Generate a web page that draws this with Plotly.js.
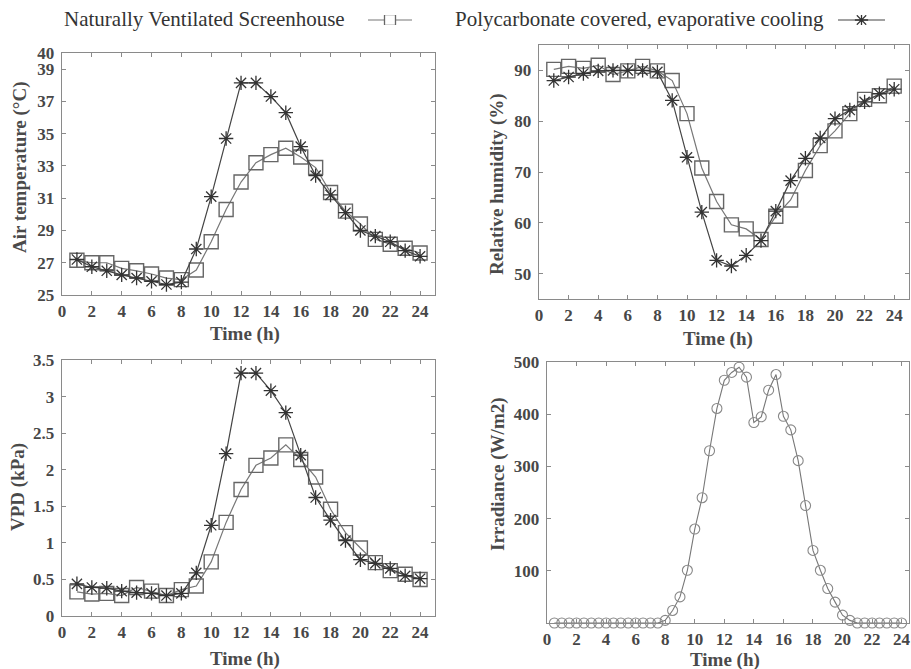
<!DOCTYPE html>
<html>
<head>
<meta charset="utf-8">
<script src="https://cdn.plot.ly/plotly-3.0.1.min.js"></script>
<style>
  html, body { margin: 0; padding: 0; background: #fff; }
  #chart { width: 911px; height: 669px; }
</style>
</head>
<body>
<div id="chart"></div>
<script>
// Hourly readings, 1 h to 24 h
const hours = [1,2,3,4,5,6,7,8,9,10,11,12,13,14,15,16,17,18,19,20,21,22,23,24];

// Air temperature (°C)
const tempScreenhouse = [27.15,27.0,27.0,26.65,26.5,26.3,26.05,25.95,26.55,28.3,30.3,32.0,33.2,33.7,34.1,33.55,32.9,31.35,30.2,29.4,28.45,28.15,27.9,27.6];
const tempPolycarb    = [27.2,26.75,26.5,26.25,26.05,25.85,25.65,25.8,27.85,31.1,34.7,38.15,38.15,37.3,36.3,34.2,32.4,31.2,30.1,29.0,28.65,28.3,27.75,27.4];

// Relative humidity (%)
const rhScreenhouse = [90.2,90.8,90.4,91.0,89.2,89.9,90.8,89.9,88.0,81.5,70.8,64.2,59.6,58.8,56.7,61.3,64.5,70.3,75.2,78.1,81.5,84.3,85.0,86.9];
const rhPolycarb    = [88.0,88.7,89.4,89.9,90.0,90.0,90.0,89.7,84.1,72.9,62.1,52.6,51.5,53.6,56.5,62.3,68.3,72.7,76.7,80.5,82.2,83.8,85.4,86.3];

// Vapour pressure deficit (kPa)
const vpdScreenhouse = [0.33,0.30,0.31,0.28,0.39,0.34,0.28,0.36,0.41,0.74,1.28,1.73,2.06,2.16,2.34,2.14,1.90,1.46,1.14,0.93,0.73,0.62,0.57,0.50];
const vpdPolycarb    = [0.44,0.39,0.38,0.34,0.32,0.31,0.28,0.31,0.59,1.24,2.22,3.32,3.32,3.08,2.78,2.20,1.62,1.31,1.03,0.77,0.72,0.65,0.55,0.51];

// Solar irradiance, half-hourly (W/m2)
const irrTime = [0.5,1,1.5,2,2.5,3,3.5,4,4.5,5,5.5,6,6.5,7,7.5,8,8.5,9,9.5,10,10.5,11,11.5,12,12.5,13,13.5,14,14.5,15,15.5,16,16.5,17,17.5,18,18.5,19,19.5,20,20.5,21,21.5,22,22.5,23,23.5,24];
const irradiance = [0,0,0,0,0,0,0,0,0,0,0,0,0,0,0,5,24,50,101,180,240,330,411,465,480,490,471,384,395,446,476,396,370,311,225,139,101,66,40,15,5,0,0,0,0,0,0,0];

// Tick labels
const xTicks = [0,2,4,6,8,10,12,14,16,18,20,22,24];
const tempTicks = [25,27,29,31,33,35,37,39,40];
const rhTicks = [50,60,70,80,90];
const vpdTicks = [0,0.5,1,1.5,2,2.5,3,3.5];
const vpdTickText = ['0','0.5','1','1.5','2','2.5','3','3.5'];
const irrTicks = [100,200,300,400,500];

// Legend labels
const seriesNames = ['Naturally Ventilated Screenhouse', 'Polycarbonate covered, evaporative cooling'];

const W = 911, H = 669;
const px = v => v / W;
const py = v => 1 - v / H;

const FONT = 'Liberation Serif';
const axisGrey = '#8a8a8a';
const tickFont = {family: FONT, size: 17, color: '#474747', weight: 700};

const squareStyle = {symbol: 'square-open', size: 14, color: '#666', line: {color: '#666', width: 1.4}};
const starStyle = {symbol: 'asterisk-open', size: 12, color: '#333', line: {color: '#333', width: 1.3}};
const lineNV = {color: '#777', width: 1.2};
const linePC = {color: '#444', width: 1.2};

function xAxis(domain, anchor, range) {
  return {
    domain: domain, anchor: anchor, range: range,
    tickmode: 'array', tickvals: xTicks,
    ticks: 'inside', ticklen: 4, tickcolor: axisGrey, tickwidth: 1,
    showline: true, linecolor: axisGrey, linewidth: 1.3, mirror: 'ticks',
    showgrid: false, zeroline: false, tickfont: tickFont,
    ticklabelstandoff: 0, ticklabeloverflow: 'allow'
  };
}
function yAxis(domain, anchor, range, vals, text) {
  const a = {
    domain: domain, anchor: anchor, range: range,
    tickmode: 'array', tickvals: vals,
    ticks: 'inside', ticklen: 4, tickcolor: axisGrey, tickwidth: 1,
    showline: true, linecolor: axisGrey, linewidth: 1.3, mirror: 'ticks',
    showgrid: false, zeroline: false, tickfont: tickFont, ticklabelstandoff: 3
  };
  if (text) a.ticktext = text;
  return a;
}

function pair(xa, ya, yNV, yPC) {
  return [
    {x: hours, y: yNV, xaxis: xa, yaxis: ya, mode: 'lines+markers', name: seriesNames[0],
     line: lineNV, marker: squareStyle, showlegend: false, cliponaxis: false},
    {x: hours, y: yPC, xaxis: xa, yaxis: ya, mode: 'lines+markers', name: seriesNames[1],
     line: linePC, marker: starStyle, showlegend: false, cliponaxis: false}
  ];
}

// legend key: a short line with the series marker in its middle
function legendKey(xa, ya, line, marker) {
  return [
    {x: [0, 1], y: [0, 0], xaxis: xa, yaxis: ya, mode: 'lines', line: line, showlegend: false, hoverinfo: 'skip'},
    {x: [0.5], y: [0], xaxis: xa, yaxis: ya, mode: 'markers', showlegend: false, hoverinfo: 'skip', marker: marker}
  ];
}

const data = [
  ...pair('x', 'y', tempScreenhouse, tempPolycarb),
  ...pair('x2', 'y2', rhScreenhouse, rhPolycarb),
  ...pair('x3', 'y3', vpdScreenhouse, vpdPolycarb),
  {x: irrTime, y: irradiance, xaxis: 'x4', yaxis: 'y4', mode: 'lines+markers', name: 'Irradiance',
   line: {color: '#777', width: 1.1},
   marker: {symbol: 'circle-open', size: 10, color: '#888', line: {color: '#888', width: 1.1}},
   showlegend: false, cliponaxis: false},
  ...legendKey('x5', 'y5', lineNV, {symbol: 'square', size: 11, color: '#fff', line: {color: '#666', width: 1.3}}),
  ...legendKey('x6', 'y6', linePC, Object.assign({}, starStyle, {size: 11}))
];

const hidden = (domain, anchor) => ({domain: domain, anchor: anchor, range: [0, 1], visible: false, fixedrange: true});
const hiddenY = (domain, anchor) => ({domain: domain, anchor: anchor, range: [-1, 1], visible: false, fixedrange: true});

const titleFont = {family: FONT, size: 19, color: '#4a4a4a', weight: 700};
const legendFont = {family: FONT, size: 21, color: '#333'};

function note(text, x, y, angle, font, anchor) {
  return {text: text, xref: 'paper', yref: 'paper', x: px(x), y: py(y), showarrow: false,
          textangle: angle || 0, font: font, xanchor: anchor || 'center', yanchor: 'middle'};
}

const layout = {
  width: W, height: H,
  margin: {l: 0, r: 0, t: 0, b: 0},
  paper_bgcolor: '#fff', plot_bgcolor: '#fff',
  showlegend: false,
  xaxis:  xAxis([px(62), px(435)], 'y', [0, 25]),
  yaxis:  yAxis([py(295), py(53)], 'x', [25, 40], tempTicks),
  xaxis2: xAxis([px(539), px(909)], 'y2', [0, 25]),
  yaxis2: yAxis([py(299), py(45)], 'x2', [45, 95], rhTicks),
  xaxis3: xAxis([px(62), px(435)], 'y3', [0, 25]),
  yaxis3: yAxis([py(616), py(360)], 'x3', [0, 3.5], vpdTicks, vpdTickText),
  xaxis4: xAxis([px(547), px(909)], 'y4', [0, 24.5]),
  yaxis4: yAxis([py(623), py(362)], 'x4', [0, 500], irrTicks),
  xaxis5: hidden([px(368), px(412)], 'y5'),
  yaxis5: hiddenY([py(25), py(15)], 'x5'),
  xaxis6: hidden([px(838), px(885)], 'y6'),
  yaxis6: hiddenY([py(25), py(15)], 'x6'),
  annotations: [
    note(seriesNames[0], 62, 19, 0, legendFont, 'left'),
    note(seriesNames[1], 453, 19, 0, legendFont, 'left'),
    note('Air temperature (°C)', 20, 167, -90, titleFont),
    note('Time (h)', 245, 334, 0, titleFont),
    note('Relative humidity (%)', 497, 184, -90, titleFont),
    note('Time (h)', 718, 339, 0, titleFont),
    note('VPD (kPa)', 18, 487, -90, titleFont),
    note('Time (h)', 245, 659, 0, titleFont),
    note('Irradiance (W/m2)', 498, 474, -90, titleFont),
    note('Time (h)', 725, 660, 0, titleFont)
  ]
};

Plotly.newPlot('chart', data, layout, {staticPlot: true, displayModeBar: false});
</script>
</body>
</html>
